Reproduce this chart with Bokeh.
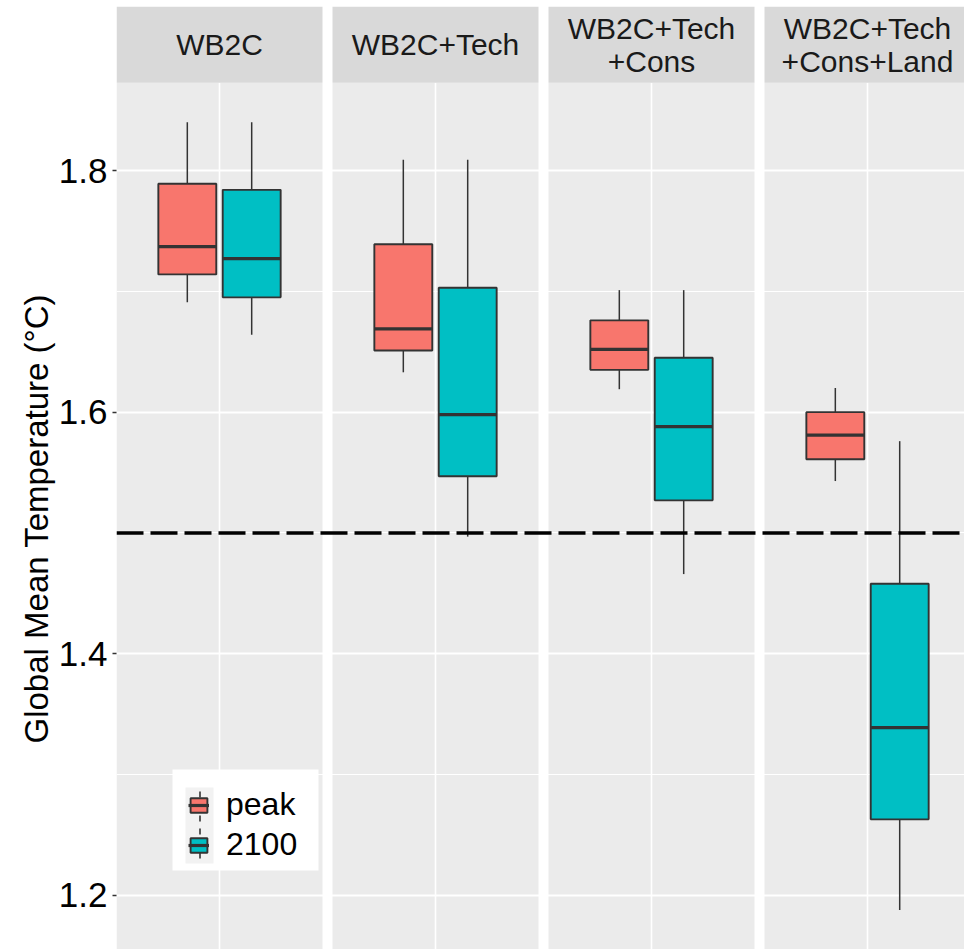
from bokeh.plotting import figure
from bokeh.models import (FixedTicker, Grid, Span, Legend, LegendItem, Title,
                          BoxAnnotation, Range1d, ColumnDataSource)
from bokeh.core.properties import value
from bokeh.embed import file_html
from bokeh.resources import INLINE

# ---------------- data ----------------
facets = ["WB2C", "WB2C+Tech", "WB2C+Tech\n+Cons", "WB2C+Tech\n+Cons+Land"]
groups = ["peak", "2100"]
group_colors = ["#F8766D", "#00BFC4"]

peak_min = [1.691, 1.633, 1.619, 1.543]
peak_q1 = [1.714, 1.651, 1.635, 1.561]
peak_med = [1.737, 1.669, 1.652, 1.581]
peak_q3 = [1.789, 1.739, 1.676, 1.600]
peak_max = [1.840, 1.809, 1.701, 1.620]

y2100_min = [1.664, 1.497, 1.466, 1.188]
y2100_q1 = [1.695, 1.547, 1.527, 1.263]
y2100_med = [1.727, 1.598, 1.588, 1.339]
y2100_q3 = [1.784, 1.703, 1.645, 1.458]
y2100_max = [1.840, 1.809, 1.701, 1.576]

y_ticks = [1.2, 1.4, 1.6, 1.8]
y_minor_ticks = [1.3, 1.5, 1.7]
threshold = 1.5
y_title = "Global Mean Temperature (°C)"

# ---------------- layout constants ----------------
W, H = 964, 949
FRAME_LEFT = 116
PX_X = 171.67           # pixels per x unit
PX_Y = 1208.33          # pixels per y unit
PANEL_W = 1.2           # discrete scale 0.4 .. 1.6
GAP = 10 / PX_X         # spacing between facets
DODGE = 0.1875
BOX_W = 0.3375
centers = [i * (PANEL_W + GAP) for i in range(len(facets))]

all_min = min(peak_min + y2100_min)
all_max = max(peak_max + y2100_max)
panel_top = all_max + 0.05 * (all_max - all_min)
panel_bottom = all_min - 0.05 * (all_max - all_min)
strip_h = 76 / PX_Y

X0 = -PANEL_W / 2
X1 = X0 + (W - FRAME_LEFT) / PX_X
Y1 = 1.8 + 170 / PX_Y
Y0 = Y1 - H / PX_Y


def dx(px):  # page pixel -> data x (decorations only)
    return X0 + (px - FRAME_LEFT) / PX_X


def dy(py):  # page pixel -> data y (decorations only)
    return Y1 - py / PX_Y


p = figure(width=W, height=H, output_backend="svg", toolbar_location=None,
           x_range=Range1d(X0, X1), y_range=Range1d(Y0, Y1),
           x_axis_location=None, min_border_left=FRAME_LEFT, min_border_right=0,
           min_border_top=0, min_border_bottom=0)
p.outline_line_color = None
p.background_fill_color = "white"
p.border_fill_color = "white"
p.xgrid.grid_line_color = None

# panel backgrounds (below grid)
p.quad(left=[c - PANEL_W / 2 for c in centers], right=[c + PANEL_W / 2 for c in centers],
       bottom=panel_bottom, top=panel_top, fill_color="#EBEBEB", line_color=None,
       level="image")

# y axis & grid
yax = p.yaxis[0]
yax.ticker = FixedTicker(ticks=y_ticks, minor_ticks=y_minor_ticks)
yax.axis_line_color = None
yax.major_tick_line_color = "#333333"
yax.major_tick_line_width = 1.5
yax.major_tick_out = 4
yax.major_tick_in = 0
yax.minor_tick_line_color = None
yax.major_label_text_font = "Liberation Sans"
yax.major_label_text_font_size = "35px"
yax.major_label_text_color = "black"
yax.major_label_standoff = 5

# axis title, centred on the panel area (below the strips) like ggplot does
p.add_layout(Title(text=y_title, align="left", offset=206, standoff=2,
                   text_font="Liberation Sans", text_font_size="33px",
                   text_font_style="normal", text_color="black"), "left")

p.ygrid.grid_line_color = "white"
p.ygrid.grid_line_width = 2
p.ygrid.minor_grid_line_color = "white"
p.ygrid.minor_grid_line_width = 1.1

xgrid = Grid(dimension=0, ticker=FixedTicker(ticks=centers),
             grid_line_color="white", grid_line_width=1.6)
p.add_layout(xgrid, "center")

# strips
p.quad(left=[c - PANEL_W / 2 for c in centers], right=[c + PANEL_W / 2 for c in centers],
       bottom=panel_top, top=panel_top + strip_h, fill_color="#D9D9D9", line_color=None)
p.text(x=centers, y=[panel_top + strip_h / 2] * len(centers), text=facets,
       text_align="center", text_baseline="middle", text_font=value("Liberation Sans"),
       text_font_size="30px", text_color="#1A1A1A", text_line_height=1.0)

# boxplots
series = [
    (peak_min, peak_q1, peak_med, peak_q3, peak_max),
    (y2100_min, y2100_q1, y2100_med, y2100_q3, y2100_max),
]
box_r, med_r = [], []
for gi, (mn, q1, md, q3, mx) in enumerate(series):
    off = -DODGE if gi == 0 else DODGE
    xs = [c + off for c in centers]
    src = ColumnDataSource(dict(x=xs, xl=[x - BOX_W / 2 for x in xs], xr=[x + BOX_W / 2 for x in xs],
                                mn=mn, q1=q1, md=md, q3=q3, mx=mx))
    p.segment(x0="x", x1="x", y0="q3", y1="mx", source=src, line_color="#333333", line_width=1.5)
    p.segment(x0="x", x1="x", y0="mn", y1="q1", source=src, line_color="#333333", line_width=1.5)
    b = p.vbar(x="x", width=BOX_W, bottom="q1", top="q3", source=src,
               fill_color=group_colors[gi], line_color="#333333", line_width=1.9)
    m = p.segment(x0="xl", x1="xr", y0="md", y1="md", source=src,
                  line_color="#333333", line_width=3.2)
    box_r.append(b)
    med_r.append(m)

# threshold line
p.add_layout(Span(location=threshold, dimension="width", line_color="black",
                  line_width=3.6, line_dash="27 7"))

# legend: white panel and grey key background, then the legend itself
p.add_layout(BoxAnnotation(left=dx(172), right=dx(318), top=dy(769), bottom=dy(870),
                           fill_color="white", fill_alpha=1, line_color=None))
p.add_layout(BoxAnnotation(left=dx(185), right=dx(213), top=dy(787), bottom=dy(863),
                           fill_color="#F2F2F2", fill_alpha=1, line_color=None))
legend = Legend(items=[LegendItem(label=g, renderers=[box_r[i], med_r[i]]) for i, g in enumerate(groups)],
                location=(72, 86), glyph_width=21, glyph_height=18, label_standoff=17,
                padding=14, spacing=3, label_text_font="Liberation Sans",
                label_text_font_size="32px", label_text_color="black",
                background_fill_alpha=0, border_line_color=None, margin=0)
p.add_layout(legend)

# whiskers of the legend keys
for cy in (806, 843):
    for y_a, y_b in ((cy - 15, cy - 9), (cy + 9, cy + 15)):
        p.add_layout(BoxAnnotation(left=dx(198.7), right=dx(200.3), top=dy(y_a), bottom=dy(y_b),
                                   fill_color="#333333", fill_alpha=1, line_color=None))

open("out.html", "w").write(file_html(p, INLINE))
